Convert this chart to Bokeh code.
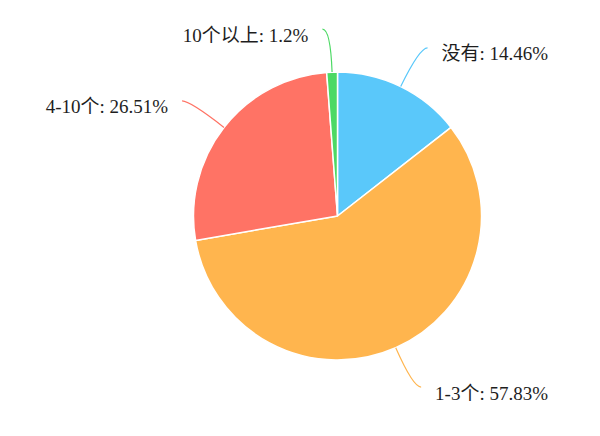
import math
from bokeh.plotting import figure
from bokeh.models import Range1d
from bokeh.core.properties import value
from bokeh.embed import file_html
from bokeh.resources import INLINE

categories = ["没有", "1-3个", "4-10个", "10个以上"]
percents = [14.46, 57.83, 26.51, 1.2]
colors = ["#5AC8FA", "#FFB54E", "#FF7365", "#4CD964"]

W, H = 584, 420
p = figure(width=W, height=H, output_backend="svg", toolbar_location=None,
           x_range=Range1d(0, W), y_range=Range1d(436 - H, 436),
           min_border=0)
p.axis.visible = False
p.grid.visible = False
p.outline_line_color = None
p.background_fill_color = "white"
p.border_fill_color = "white"

ccx, ccy, r = 337.0, 436 - 215.5, 144.0
total = sum(percents)
start = math.pi / 2
starts, ends, mids = [], [], []
for v in percents:
    a = 2 * math.pi * v / total
    starts.append(start)
    ends.append(start - a)
    mids.append(start - a / 2)
    start -= a

p.wedge(x=ccx, y=ccy, radius=r, start_angle=starts, end_angle=ends, direction="clock",
        fill_color=colors, line_color="white", line_width=1.5)

len1, len2, gap = 43.0, 8.0, 14.0
font = value("Liberation Serif, Noto Sans CJK SC")
for cat, v, col, m in zip(categories, percents, colors, mids):
    dx, dy = math.cos(m), math.sin(m)
    x0, y0 = ccx + r * dx, ccy + r * dy
    bx, by = ccx + (r + len1) * dx, ccy + (r + len1) * dy
    side = 1 if dx >= 0 else -1
    ex, ey = bx + side * len2, by
    p.quadratic(x0=[x0], y0=[y0], x1=[ex], y1=[ey], cx=[bx], cy=[by],
                line_color=col, line_width=1.2)
    label = f"{cat}: {v:g}%"
    p.text(x=[ex + side * gap], y=[ey - 6], text=[label],
           text_align="left" if side > 0 else "right", text_baseline="middle",
           text_font=font, text_font_size="19px", text_color="#1e1e1e")

open("out.html", "w").write(file_html(p, INLINE))
